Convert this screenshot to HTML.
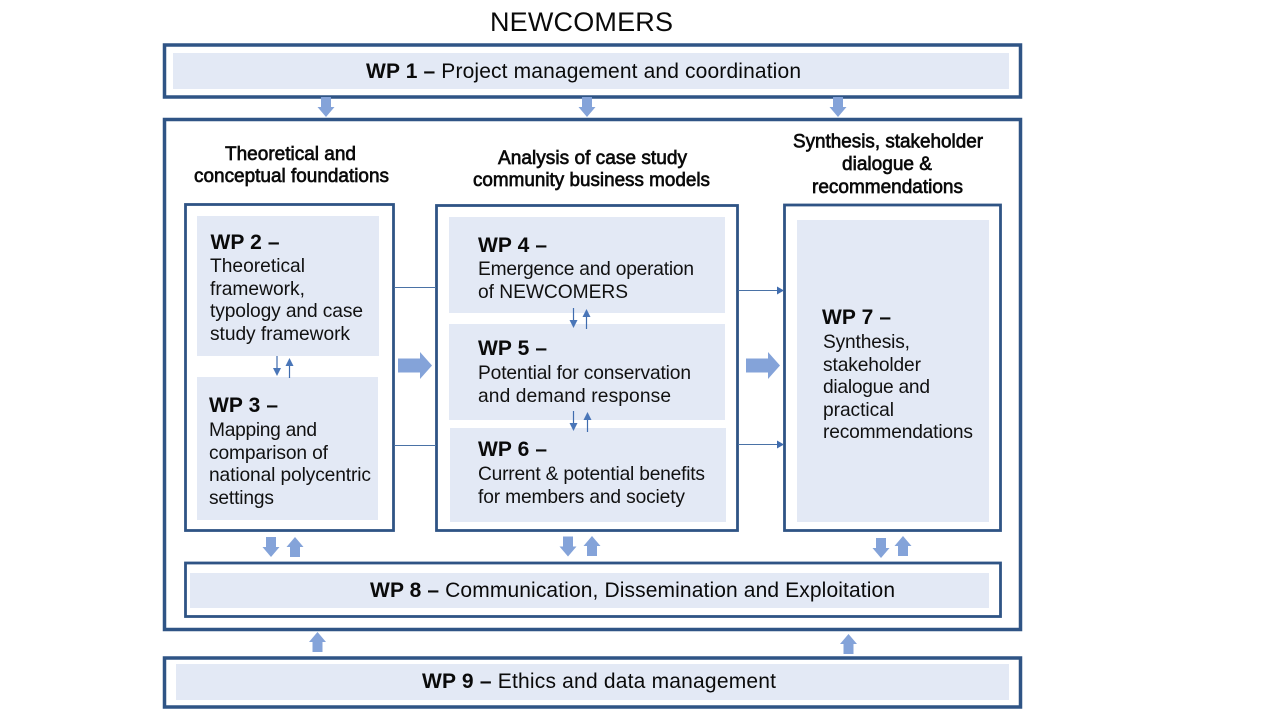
<!DOCTYPE html>
<html><head><meta charset="utf-8"><style>
html,body{margin:0;padding:0;background:#fff;width:1280px;height:720px;overflow:hidden}
svg{display:block}
text{font-family:"Liberation Sans",Arial,sans-serif;fill:#0a0a0a}
.b{font-weight:bold}
.h{font-size:19px;stroke:#0a0a0a;stroke-width:.65px}
.t{font-size:19.2px;fill:#111}
.w{font-size:21px;font-weight:bold}
.bar{font-size:21px}
</style></head><body>
<svg width="1280" height="720" viewBox="0 0 1280 720" xmlns="http://www.w3.org/2000/svg">
<defs>
<path id="d" d="M-5,-10 H5 V0 H8.5 L0,10 L-8.5,0 H-5 Z" fill="#84a3d9"/>
<path id="u" d="M-5,10 H5 V0 H8.5 L0,-10 L-8.5,0 H-5 Z" fill="#84a3d9"/>
<path id="r" d="M-17,-7 H5 V-13.5 L17,0 L5,13.5 V7 H-17 Z" fill="#84a3d9"/>
<g id="sd"><line x1="0" y1="-10" x2="0" y2="4" stroke="#3f6cae" stroke-width="1.2"/><path d="M-4,2 H4 L0,10 Z" fill="#4a76b8"/></g>
<g id="su"><line x1="0" y1="10" x2="0" y2="-4" stroke="#3f6cae" stroke-width="1.2"/><path d="M-4,-2 H4 L0,-10 Z" fill="#4a76b8"/></g>
</defs>

<text x="490" y="31" font-size="27" textLength="183">NEWCOMERS</text>

<!-- panels -->
<g fill="#e3e9f5">
<rect x="173" y="53" width="836" height="36"/>
<rect x="197" y="216" width="182" height="140"/>
<rect x="197" y="377" width="181" height="143"/>
<rect x="449" y="217" width="276" height="96"/>
<rect x="449" y="324" width="276" height="96"/>
<rect x="450" y="428" width="276" height="94"/>
<rect x="797" y="220" width="192" height="302"/>
<rect x="190" y="573" width="799" height="35"/>
<rect x="176" y="664" width="833" height="36"/>
</g>

<!-- frames -->
<g fill="none" stroke="#2f5485">
<rect x="164.5" y="45" width="856" height="52" stroke-width="3.5"/>
<rect x="164.5" y="119.5" width="856" height="510" stroke-width="3.5"/>
<rect x="164.5" y="658" width="856" height="49" stroke-width="3.5"/>
<rect x="185.5" y="204.5" width="208" height="326" stroke-width="2.8"/>
<rect x="436.5" y="205.5" width="301" height="325" stroke-width="2.8"/>
<rect x="784.5" y="205" width="216" height="325.5" stroke-width="2.8"/>
<rect x="185.5" y="563" width="815" height="53.5" stroke-width="2.8"/>
</g>

<!-- thin connectors -->
<g stroke="#4a72a6" stroke-width="1">
<line x1="394" y1="287.5" x2="436" y2="287.5"/>
<line x1="394" y1="445.5" x2="436" y2="445.5"/>
<line x1="738" y1="290.5" x2="780" y2="290.5"/>
<line x1="738" y1="444.5" x2="780" y2="444.5"/>
</g>
<path d="M777,286.5 L784,290.5 L777,294.5 Z" fill="#3f6cae"/>
<path d="M777,440.5 L784,444.5 L777,448.5 Z" fill="#3f6cae"/>

<!-- block arrows -->
<use href="#d" x="326" y="107"/>
<use href="#d" x="587" y="107"/>
<use href="#d" x="838" y="107"/>
<use href="#r" x="415" y="365.5"/>
<use href="#r" x="763" y="365.5"/>
<use href="#d" x="271" y="547"/>
<use href="#u" x="295" y="547"/>
<use href="#d" x="568" y="546.5"/>
<use href="#u" x="592" y="546"/>
<use href="#d" x="881" y="548"/>
<use href="#u" x="903" y="546"/>
<use href="#u" x="317.5" y="642"/>
<use href="#u" x="848.5" y="644"/>

<!-- small arrows -->
<use href="#sd" x="277" y="366"/>
<use href="#su" x="289.5" y="368"/>
<use href="#sd" x="573.5" y="318"/>
<use href="#su" x="586.5" y="319"/>
<use href="#sd" x="573.5" y="421"/>
<use href="#su" x="587.5" y="422"/>

<!-- bars -->
<text class="bar" x="366" y="78" textLength="435"><tspan class="b">WP 1 –</tspan> Project management and coordination</text>
<text class="bar" x="370" y="597" textLength="525"><tspan class="b">WP 8 –</tspan> Communication, Dissemination and Exploitation</text>
<text class="bar" x="422" y="688" textLength="354"><tspan class="b">WP 9 –</tspan> Ethics and data management</text>

<!-- headings -->
<text class="h" x="225" y="160" textLength="131" lengthAdjust="spacingAndGlyphs">Theoretical and</text>
<text class="h" x="194" y="182" textLength="195" lengthAdjust="spacingAndGlyphs">conceptual foundations</text>
<text class="h" x="498" y="164" textLength="189" lengthAdjust="spacingAndGlyphs">Analysis of case study</text>
<text class="h" x="473" y="186" textLength="237" lengthAdjust="spacingAndGlyphs">community business models</text>
<text class="h" x="793" y="147.5" textLength="190" lengthAdjust="spacingAndGlyphs">Synthesis, stakeholder</text>
<text class="h" x="842" y="170" textLength="90" lengthAdjust="spacingAndGlyphs">dialogue &amp;</text>
<text class="h" x="812" y="193" textLength="151" lengthAdjust="spacingAndGlyphs">recommendations</text>

<!-- WP 2 -->
<text class="w" x="210.5" y="249" textLength="69">WP 2 –</text>
<text class="t" x="210" y="272" textLength="95">Theoretical</text>
<text class="t" x="210" y="295" textLength="95">framework,</text>
<text class="t" x="210" y="317" textLength="153">typology and case</text>
<text class="t" x="210" y="340" textLength="140">study framework</text>

<!-- WP 3 -->
<text class="w" x="209" y="412" textLength="69">WP 3 –</text>
<text class="t" x="209" y="436" textLength="108">Mapping and</text>
<text class="t" x="209" y="459" textLength="119">comparison of</text>
<text class="t" x="209" y="481" textLength="162">national polycentric</text>
<text class="t" x="209" y="504" textLength="65">settings</text>

<!-- WP 4 -->
<text class="w" x="478" y="252" textLength="69">WP 4 –</text>
<text class="t" x="478" y="275" textLength="216">Emergence and operation</text>
<text class="t" x="478" y="298" textLength="150">of NEWCOMERS</text>

<!-- WP 5 -->
<text class="w" x="478" y="355" textLength="69">WP 5 –</text>
<text class="t" x="478" y="379" textLength="213">Potential for conservation</text>
<text class="t" x="478" y="402" textLength="193">and demand response</text>

<!-- WP 6 -->
<text class="w" x="478" y="456" textLength="69">WP 6 –</text>
<text class="t" x="478" y="480" textLength="227">Current &amp; potential benefits</text>
<text class="t" x="478" y="503" textLength="207">for members and society</text>

<!-- WP 7 -->
<text class="w" x="822" y="324" textLength="69">WP 7 –</text>
<text class="t" x="823" y="348" textLength="87">Synthesis,</text>
<text class="t" x="823" y="371" textLength="98">stakeholder</text>
<text class="t" x="823" y="393" textLength="107">dialogue and</text>
<text class="t" x="823" y="416" textLength="71">practical</text>
<text class="t" x="823" y="438" textLength="150">recommendations</text>
</svg>
</body></html>
